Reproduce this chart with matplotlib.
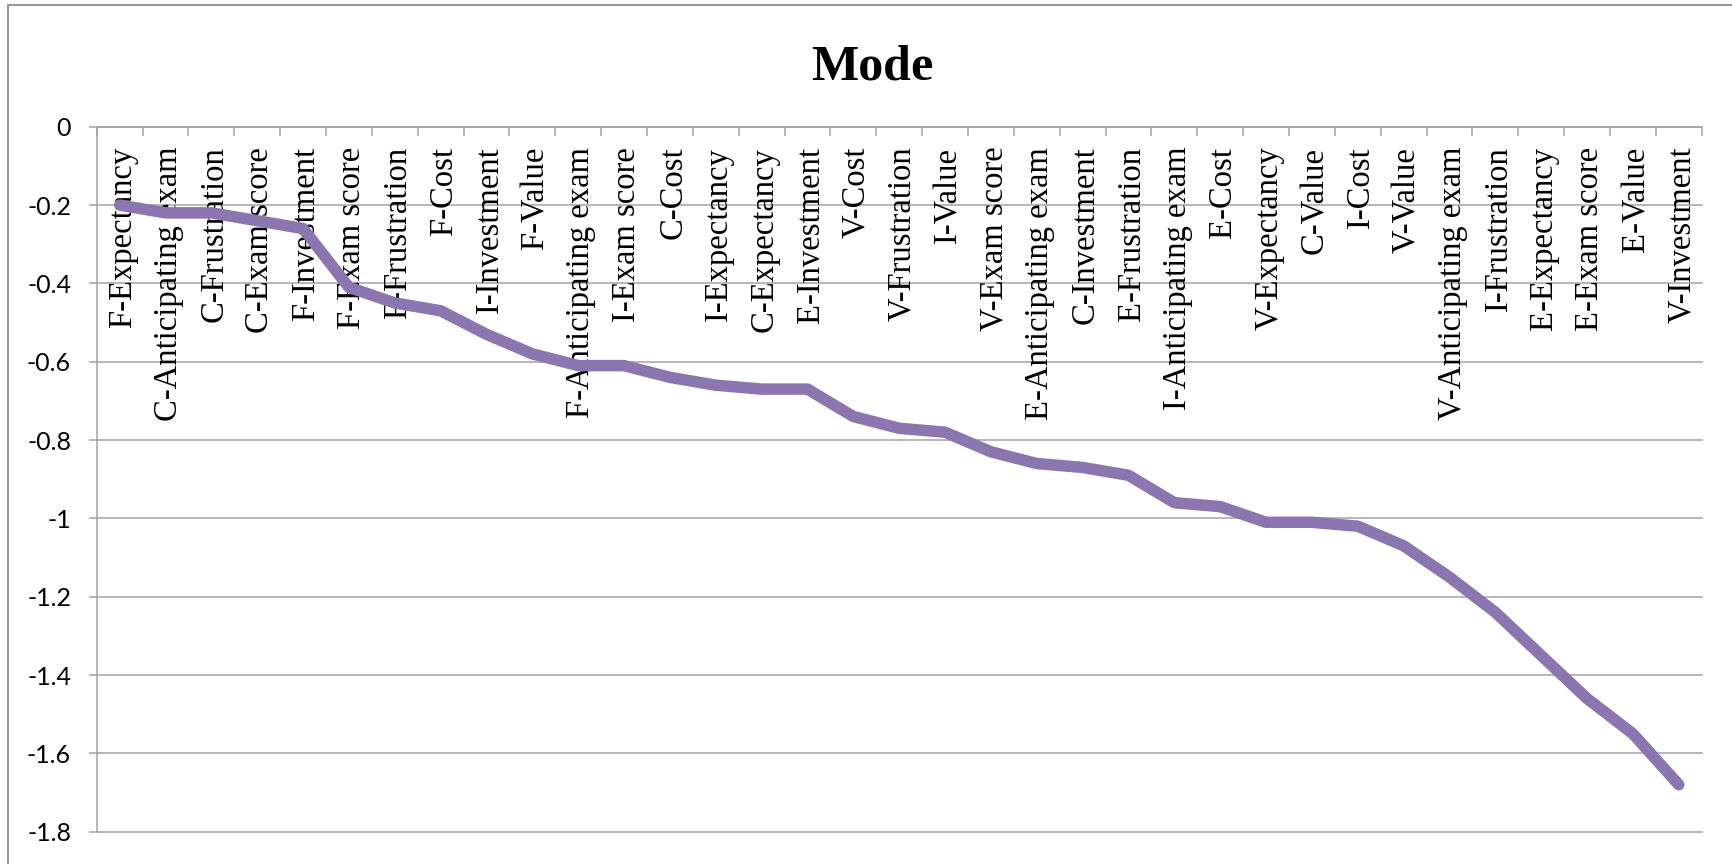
import numpy as np
import matplotlib
matplotlib.use("Agg")
import matplotlib.pyplot as plt
from matplotlib.patches import Rectangle
from matplotlib.transforms import offset_copy

# Categories in plotted order (sorted by mode, highest first)
categories = [
    "F-Expectancy", "C-Anticipating exam", "C-Frustration", "C-Exam score",
    "F-Investment", "F-Exam score", "F-Frustration", "F-Cost",
    "I-Investment", "F-Value", "F-Anticipating exam", "I-Exam score",
    "C-Cost", "I-Expectancy", "C-Expectancy", "E-Investment",
    "V-Cost", "V-Frustration", "I-Value", "V-Exam score",
    "E-Anticipating exam", "C-Investment", "E-Frustration", "I-Anticipating exam",
    "E-Cost", "V-Expectancy", "C-Value", "I-Cost",
    "V-Value", "V-Anticipating exam", "I-Frustration", "E-Expectancy",
    "E-Exam score", "E-Value", "V-Investment",
]

mode_values = [
    -0.20, -0.22, -0.22, -0.24,
    -0.26, -0.41, -0.45, -0.47,
    -0.53, -0.58, -0.61, -0.61,
    -0.64, -0.66, -0.67, -0.67,
    -0.74, -0.77, -0.78, -0.83,
    -0.86, -0.87, -0.89, -0.96,
    -0.97, -1.01, -1.01, -1.02,
    -1.07, -1.15, -1.24, -1.35,
    -1.46, -1.55, -1.68,
]

y_ticks = [0, -0.2, -0.4, -0.6, -0.8, -1.0, -1.2, -1.4, -1.6, -1.8]
y_tick_labels = ["0", "-0.2", "-0.4", "-0.6", "-0.8", "-1", "-1.2", "-1.4", "-1.6", "-1.8"]
chart_title = "Mode"

LINE = "#8C76B0"
GRID = "#A3A3A3"
BORDER = "#999999"
SERIF = ["Liberation Serif", "DejaVu Serif"]
SANS = ["Lato", "DejaVu Sans"]

W, H = 1732, 864
fig = plt.figure(figsize=(W / 100, H / 100), dpi=100)
fig.patch.set_facecolor("white")

# chart frame
fig.add_artist(Rectangle((8 / W, -0.5), 2.0, 0.5 + 1 - 5 / H,
                         transform=fig.transFigure, fill=False,
                         edgecolor=BORDER, lw=1.5, clip_on=False))

left, right = 96.7 / W, 1701.7 / W
top, bottom = 1 - 126.7 / H, 1 - 831.7 / H
ax = fig.add_axes([left, bottom, right - left, top - bottom])

n = len(categories)
x = np.arange(n)
ax.plot(x, mode_values, color=LINE, lw=8.3, solid_capstyle="round",
        solid_joinstyle="round", zorder=3)

ax.set_xlim(-0.5, n - 0.5)
ax.set_ylim(-1.8, 0)

# value axis
ax.set_yticks(y_ticks, labels=y_tick_labels)
ax.yaxis.grid(True, color=GRID, lw=1.1)
for gl in ax.get_ygridlines():
    gl.set_clip_on(False)
ax.set_axisbelow(True)
ax.tick_params(axis="y", direction="out", length=6, width=1.1, color=GRID,
               pad=12.5, labelsize=18)
for lab in ax.get_yticklabels():
    lab.set_family(SANS)

# category axis along the zero line
ax.xaxis.set_ticks_position("top")
ax.set_xticks(np.arange(-0.5, n, 1.0))
ax.tick_params(axis="x", direction="in", length=6.5, width=1.1, color=GRID,
               labeltop=False, labelbottom=False)

for side in ("right", "bottom"):
    ax.spines[side].set_visible(False)
for side in ("left", "top"):
    ax.spines[side].set_color(GRID)
    ax.spines[side].set_linewidth(1.1)

label_tr = offset_copy(ax.transData, fig=fig, x=3, y=-20, units="dots")
for i, cat in enumerate(categories):
    ax.text(i, 0, cat, transform=label_tr, rotation=90, ha="center", va="top",
            fontsize=23.5, family=SERIF, color="black", zorder=2, clip_on=False)

fig.text(872.3 / W, 1 - 79 / H, chart_title, ha="center", va="baseline",
         fontsize=36, fontweight="bold", family=SERIF)

fig.savefig("out.png", dpi=100)
